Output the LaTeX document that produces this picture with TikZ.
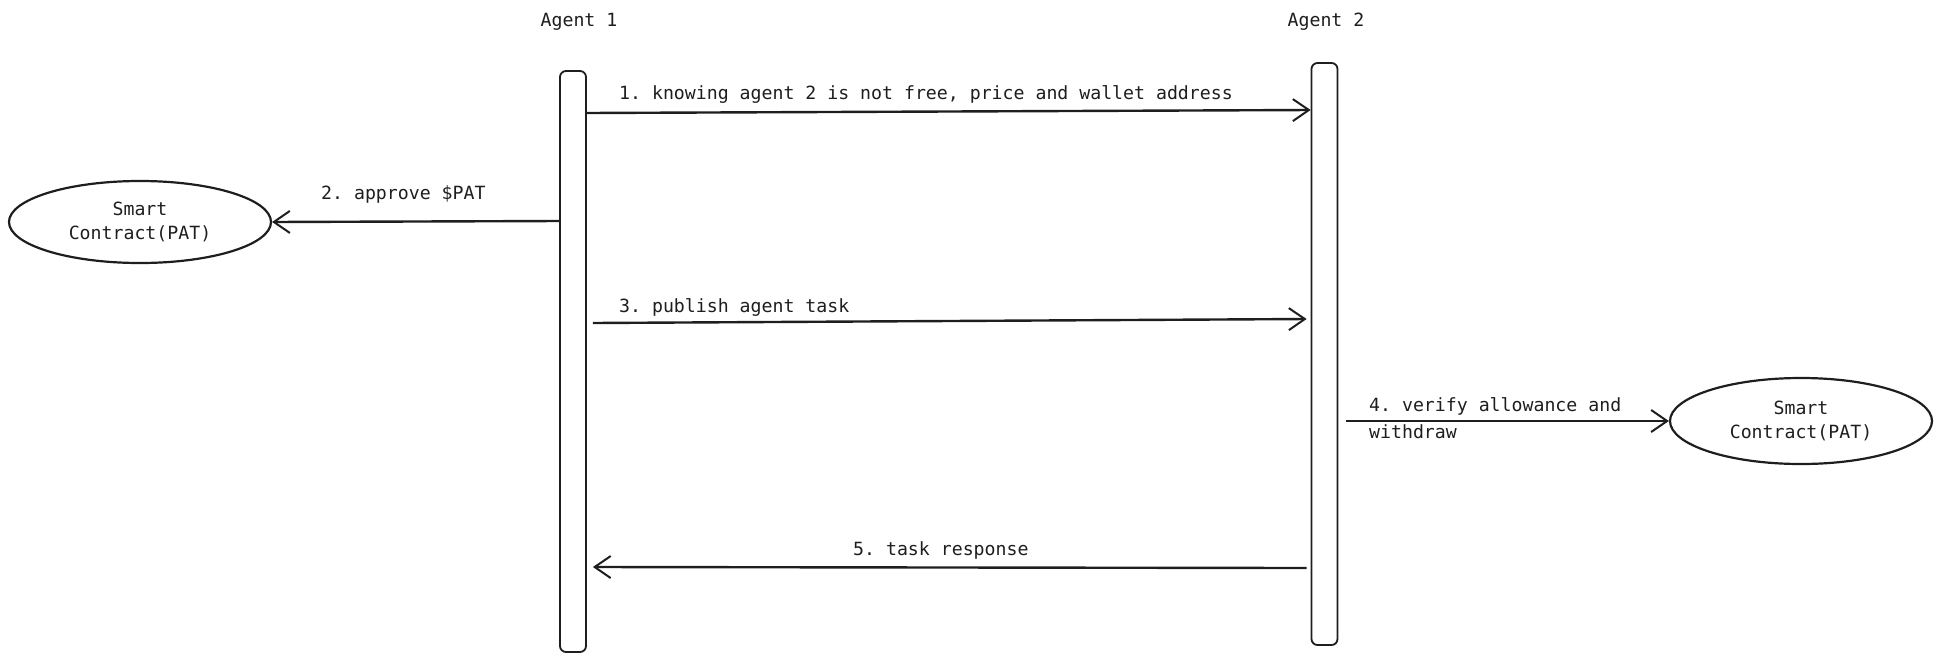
\documentclass[tikz,border=0pt]{standalone}
\usepackage{fontspec}
\setmainfont{DejaVu Sans Mono}
\usetikzlibrary{arrows.meta,shapes.geometric}
\definecolor{ink}{HTML}{1E1E1E}
\frenchspacing
\tikzset{
  txt/.style={font=\fontsize{18.2}{24}\selectfont\frenchspacing, text=ink, inner sep=0pt},
  lifebar/.style={draw=ink, line width=1.8pt, rounded corners=6pt, fill=white, minimum width=26pt},
  ell/.style={ellipse, draw=ink, line width=2.2pt, align=center, font=\fontsize{18.2}{24}\selectfont, text=ink},
  msg/.style={draw=ink, line width=2.4pt, -{Straight Barb[length=16pt,width=22pt,line width=2pt]}},
}
\begin{document}
\begin{tikzpicture}[x=1pt,y=-1pt]
\useasboundingbox (0,0) rectangle (1941,662);
% headers
\node[txt] (h1) at (579,22) {Agent 1};
\node[txt] (h2) at (1326,22) {Agent 2};
% lifelines
\node[lifebar, minimum height=581pt] (a1) at (573,361.5) {};
\node[lifebar, minimum height=582pt] (a2) at (1324.5,354) {};
% smart contracts
\node[ell, minimum width=262pt, minimum height=82pt] (sc1) at (140,222) {Smart\\Contract(PAT)};
\node[ell, minimum width=262pt, minimum height=86pt] (sc2) at (1801,421) {Smart\\Contract(PAT)};
% helper rows
\coordinate (r1a) at (0,113);
\coordinate (r1b) at (0,110);
\coordinate (r2) at (0,221);
\coordinate (r3a) at (0,323);
\coordinate (r3b) at (0,319);
\coordinate (r4) at (0,421);
\coordinate (r5a) at (0,568);
\coordinate (r5b) at (0,567);
% messages
\draw[msg] (a1.east |- r1a) -- (a2.west |- r1b);
\draw[msg] (a1.west |- r2) -- (sc1.east);
\draw[msg] ([xshift=6pt]a1.east |- r3a) -- ([xshift=-4pt]a2.west |- r3b);
\draw[msg] ([xshift=8pt]a2.east |- r4) -- (sc2.west);
\draw[msg] ([xshift=-4pt]a2.west |- r5a) -- ([xshift=6pt]a1.east |- r5b);
% labels
\node[txt, anchor=west] (l1) at (619,94) {1. knowing agent 2 is not free, price and wallet address};
\node[txt, anchor=west] (l2) at (321,194) {2. approve \$PAT};
\node[txt, anchor=west] (l3) at (619,307) {3. publish agent task};
\node[txt, anchor=west] (l4a) at (1369,406) {4. verify allowance and};
\node[txt, anchor=west] (l4b) at (1369,432) {withdraw};
\node[txt, anchor=west] (l5) at (853,550) {5. task response};
\end{tikzpicture}
\end{document}
